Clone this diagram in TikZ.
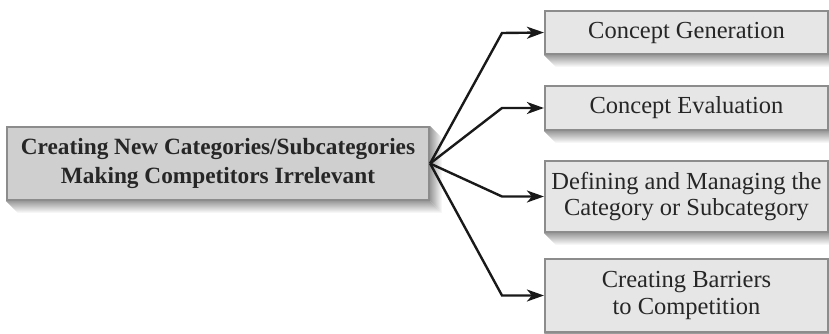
\documentclass[tikz,border=0pt]{standalone}
\usepackage{fontspec}
\setmainfont{Liberation Serif}
\usetikzlibrary{arrows.meta}
\pgfdeclarelayer{background}
\pgfsetlayers{background,main}
\definecolor{mainfill}{HTML}{CFCFCF}
\definecolor{subfill}{HTML}{E6E6E6}
\definecolor{boxline}{HTML}{8C8C8C}
\definecolor{shadowc}{HTML}{9C9C9C}
\tikzset{
  mainbox/.style={draw=boxline, line width=2.2pt, fill=mainfill, inner sep=0pt,
    minimum width=422pt, minimum height=73pt, align=center,
    font=\fontsize{23.3}{29}\selectfont\bfseries, text=black!85},
  subbox/.style={draw=boxline, line width=2.2pt, fill=subfill, inner sep=0pt,
    minimum width=283pt, align=center,
    font=\fontsize{24.5}{26.5}\selectfont, text=black!85},
  conn/.style={line width=2.4pt, black!90, -{Stealth[length=17pt, width=12pt, inset=5pt]}},
}
\newcommand{\boxshadow}[1]{%
  \path[top color=shadowc, bottom color=white]
    (#1.south west) -- (#1.south east) -- ([shift={(12pt,-12pt)}]#1.south east)
    -- ([shift={(12pt,-12pt)}]#1.south west) -- cycle;
  \path[left color=shadowc, right color=white]
    (#1.north east) -- ([shift={(12pt,-12pt)}]#1.north east)
    -- ([shift={(12pt,-12pt)}]#1.south east) -- (#1.south east) -- cycle;
}
\begin{document}
\begin{tikzpicture}[x=1pt, y=-1pt]
\useasboundingbox (0,0) rectangle (829,334);
% nodes
\node[mainbox] (main) at (218,163.5) {Creating New Categories/Subcategories\\Making Competitors Irrelevant};
\node[subbox, minimum height=43pt] (g) at (686.5,32.5) {Concept Generation};
\node[subbox, minimum height=44pt] (e) at (686.5,108) {Concept Evaluation};
\node[subbox, minimum height=71pt] (d) at (686.5,196.5) {Defining and Managing the\\Category or Subcategory};
\node[subbox, minimum height=73pt] (b) at (686.5,295.5) {Creating Barriers\\to Competition};
% shadows
\begin{pgfonlayer}{background}
\boxshadow{main}
\boxshadow{g}
\boxshadow{e}
\boxshadow{d}
\boxshadow{b}
\end{pgfonlayer}
% connectors
\coordinate (o) at (main.east);
\draw[conn] (o) -- (502,33) -- (g.west);
\draw[conn] (o) -- (502,108) -- (e.west);
\draw[conn] (o) -- (502,196.5) -- (d.west);
\draw[conn] (o) -- (502,295.5) -- (b.west);
\end{tikzpicture}
\end{document}
